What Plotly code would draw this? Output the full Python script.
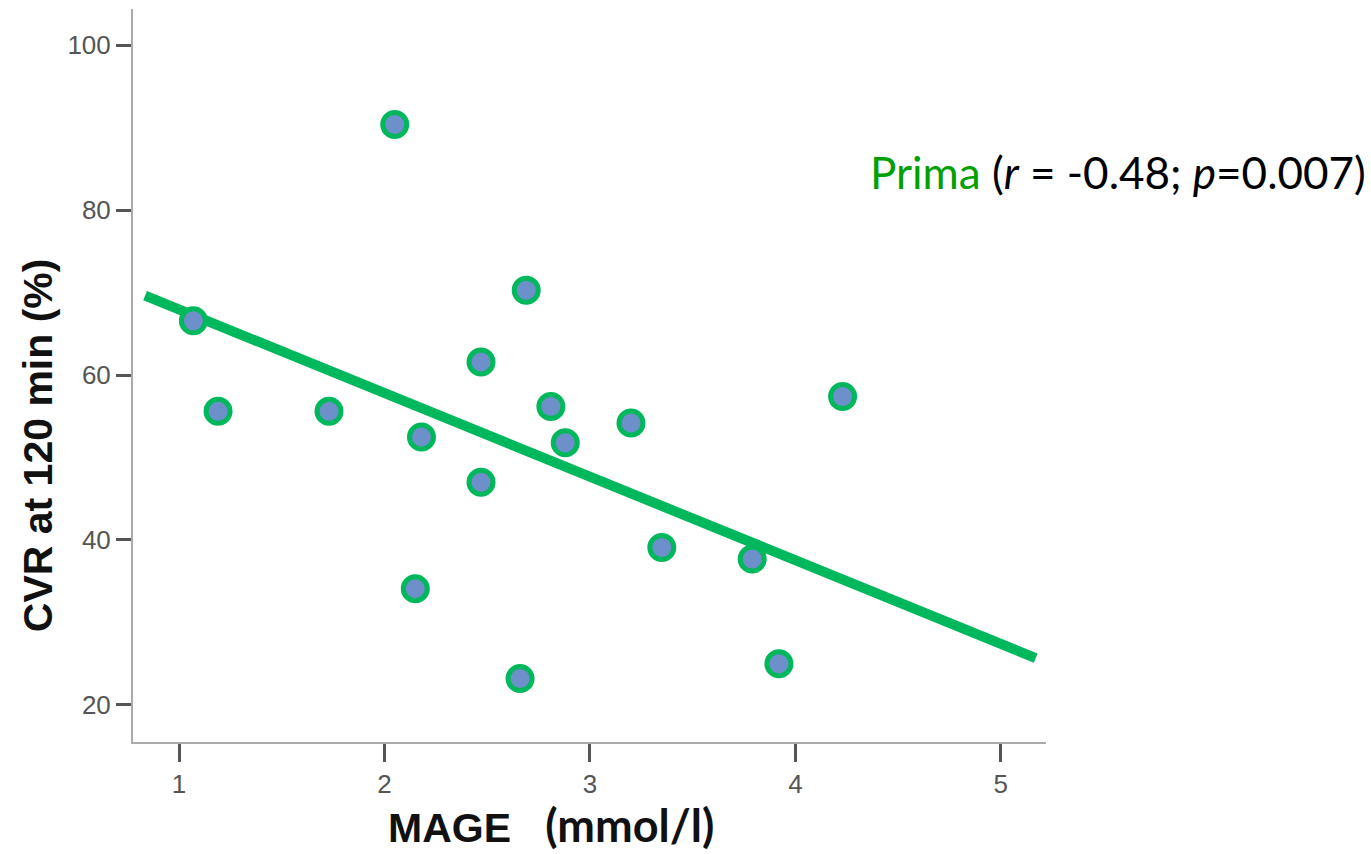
import plotly.graph_objects as go
import numpy as np

# Data
mage = [1.07, 1.19, 1.73, 2.05, 2.18, 2.15, 2.47, 2.47, 2.69, 2.66, 2.81, 2.88, 3.20, 3.35, 3.79, 3.92, 4.23]
cvr = [66.6, 55.6, 55.6, 90.4, 52.5, 34.1, 61.6, 47.0, 70.3, 23.2, 56.2, 51.8, 54.2, 39.1, 37.7, 25.0, 57.4]

# Fitted regression line (as drawn)
fit_slope = -10.14
fit_intercept = 78.1
fit_x_range = [0.835, 5.17]

x_tick_vals = [1, 2, 3, 4, 5]
y_tick_vals = [20, 40, 60, 80, 100]

GREEN = "#00b85c"
FILL = "#6d8fca"

fig = go.Figure()

fx = np.array(fit_x_range)
fig.add_trace(go.Scatter(
    x=fx, y=fit_intercept + fit_slope * fx,
    mode="lines", line=dict(color=GREEN, width=10),
    hoverinfo="skip", showlegend=False,
))

fig.add_trace(go.Scatter(
    x=mage, y=cvr, mode="markers",
    marker=dict(size=24, color=FILL, line=dict(color=GREEN, width=5)),
    showlegend=False,
))

tickfont = dict(family="Liberation Sans Narrow, Arial Narrow, Liberation Sans, Arial", size=26, color="#555555")

fig.update_layout(
    width=1371, height=854,
    margin=dict(l=133, r=325, t=9, b=112),
    paper_bgcolor="white", plot_bgcolor="white",
    xaxis=dict(
        range=[0.776, 5.22], tickvals=x_tick_vals, showgrid=False, zeroline=False,
        showline=True, linecolor="#aaaaaa", linewidth=2,
        ticks="outside", ticklen=18, tickwidth=3, tickcolor="#555555",
        tickfont=tickfont,
    ),
    yaxis=dict(
        range=[15.5, 104.4], tickvals=y_tick_vals, showgrid=False, zeroline=False,
        showline=True, linecolor="#aaaaaa", linewidth=2,
        ticks="outside", ticklen=15, tickwidth=3, tickcolor="#555555",
        tickfont=tickfont,
    ),
    annotations=[
        dict(
            text="<b>CVR at 120 min (%)</b>", xref="paper", yref="paper",
            x=-0.104, y=0.405, xanchor="center", yanchor="middle", textangle=-90,
            showarrow=False, font=dict(family="Liberation Sans, Arial", size=41, color="#111111"),
        ),
        dict(
            text="<b>MAGE</b>&nbsp;&nbsp;&nbsp;<span style='font-family:Lato, Open Sans, sans-serif;font-size:45px'><b>(mmol/l)</b></span>",
            xref="paper", yref="paper",
            x=0.458, y=-0.113, xanchor="center", yanchor="middle",
            showarrow=False, font=dict(family="Liberation Sans, Arial", size=41, color="#111111"),
        ),
        dict(
            text="<span style='color:#00a000'>Prima</span> (<i>r</i> = -0.48; <i>p</i>=0.007)",
            xref="paper", yref="paper",
            x=0.805, y=0.778, xanchor="left", yanchor="middle",
            showarrow=False, font=dict(family="Lato, Open Sans, sans-serif", size=44, color="#000000"),
        ),
    ],
)

fig.write_html("out.html")
